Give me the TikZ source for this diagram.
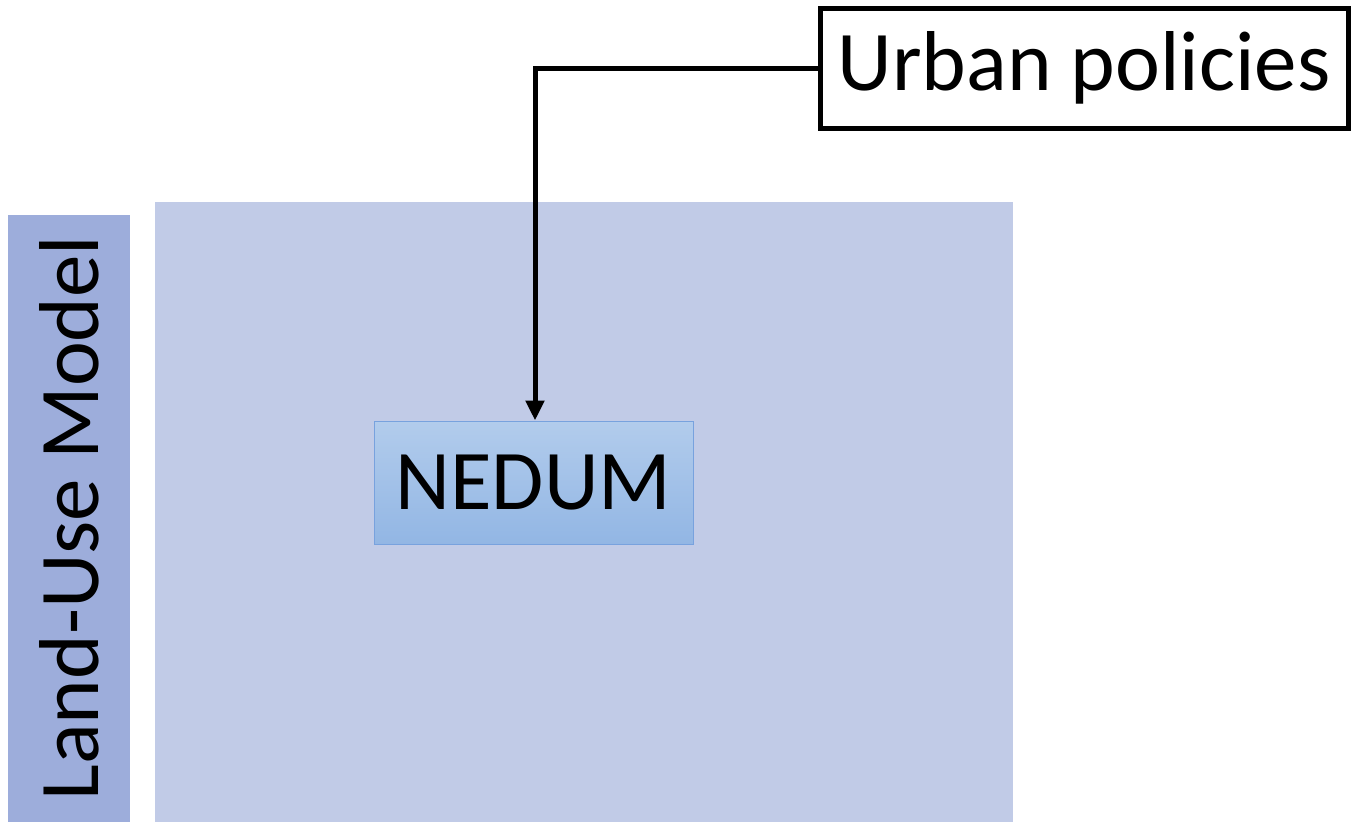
\documentclass[tikz,border=0pt]{standalone}
\usepackage{fontspec}
\setmainfont{Carlito}
\usetikzlibrary{arrows.meta}
\definecolor{barcol}{RGB}{157,173,219}
\definecolor{areacol}{RGB}{193,203,231}
\definecolor{nedtop}{RGB}{178,204,236}
\definecolor{nedbot}{RGB}{146,182,228}
\definecolor{nedline}{RGB}{120,162,222}
\tikzset{
  bigfont/.style={font=\fontsize{85}{90}\selectfont},
  conn/.style={line width=5pt, -{Triangle[length=20pt,width=18pt]}},
}
\begin{document}
\begin{tikzpicture}[x=1pt,y=-1pt]
\useasboundingbox (0,0) rectangle (1358,822);
\fill[barcol] (8,215) rectangle (130,822);
\node[bigfont, rotate=90] (lum) at (69,518) {Land-Use Model};
\fill[areacol] (155,202) rectangle (1013,822);
\node[draw=nedline, line width=1pt, top color=nedtop, bottom color=nedbot,
      minimum width=319pt, minimum height=123pt, inner sep=0pt, bigfont] (nedum) at (533.5,482.5) {NEDUM};
\node[draw=black, line width=5pt, fill=white, minimum width=528pt, minimum height=120pt, inner sep=0pt, bigfont] (urban) at (1084,68) {Urban policies};
\coordinate (bend) at (535,68);
\draw[conn] (urban.west) -- (bend) -- (nedum.north -| bend);
\end{tikzpicture}
\end{document}
